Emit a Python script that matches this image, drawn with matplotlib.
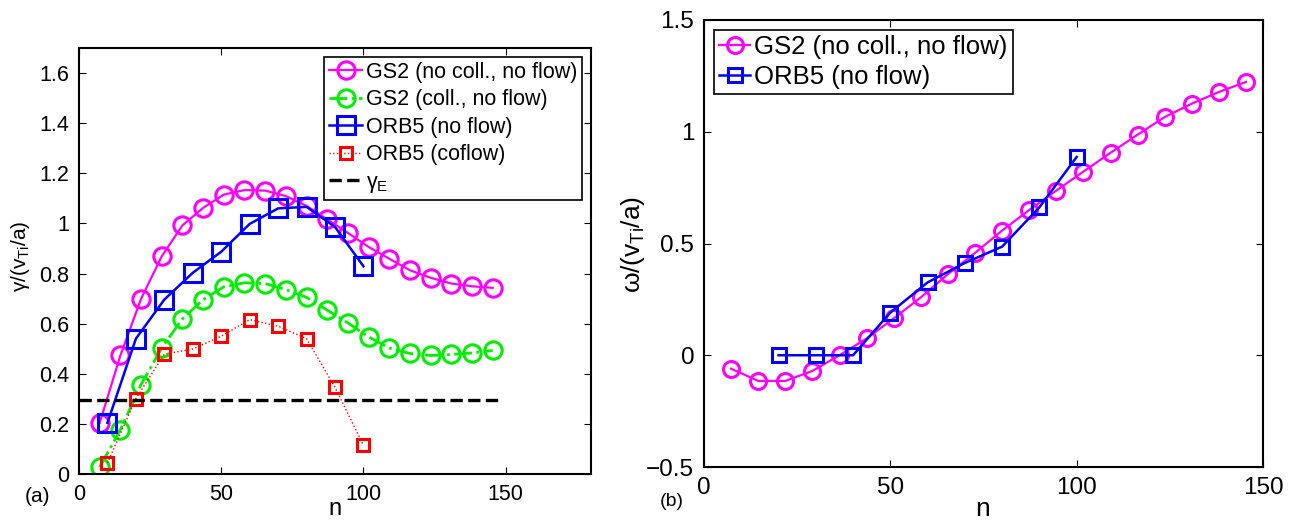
import matplotlib
matplotlib.use("Agg")
import matplotlib.pyplot as plt

FONT = 'Liberation Sans'
plt.rcParams['font.family'] = [FONT, 'DejaVu Sans']
plt.rcParams['mathtext.fontset'] = 'custom'
plt.rcParams['mathtext.rm'] = FONT
plt.rcParams['mathtext.it'] = FONT

# ---- data ----
n_gs2 = [7.27, 14.55, 21.82, 29.09, 36.36, 43.64, 50.91, 58.18, 65.45, 72.73,
         80.0, 87.27, 94.55, 101.82, 109.09, 116.36, 123.64, 130.91, 138.18, 145.45]
gamma_gs2_nocoll = [0.204, 0.473, 0.699, 0.869, 0.992, 1.062, 1.115, 1.133, 1.131, 1.109,
                    1.070, 1.016, 0.962, 0.906, 0.859, 0.813, 0.783, 0.760, 0.749, 0.743]
gamma_gs2_coll = [0.027, 0.177, 0.357, 0.503, 0.619, 0.696, 0.747, 0.763, 0.760, 0.736,
                  0.705, 0.654, 0.603, 0.547, 0.503, 0.481, 0.473, 0.477, 0.483, 0.493]
n_orb5 = [10, 20, 30, 40, 50, 60, 70, 80, 90, 100]
gamma_orb5_noflow = [0.204, 0.540, 0.696, 0.803, 0.887, 0.998, 1.060, 1.066, 0.986, 0.829]
gamma_orb5_coflow = [0.044, 0.301, 0.478, 0.499, 0.550, 0.616, 0.590, 0.540, 0.346, 0.114]
gamma_E = 0.297
n_gammaE = [0, 148.2]

omega_gs2 = [-0.060, -0.115, -0.115, -0.070, 0.0, 0.075, 0.165, 0.259, 0.363, 0.458,
             0.558, 0.650, 0.737, 0.822, 0.906, 0.987, 1.066, 1.126, 1.178, 1.223]
n_orb5_w = [20, 30, 40, 50, 60, 70, 80, 90, 100]
omega_orb5 = [0.0, 0.0, 0.0, 0.191, 0.326, 0.413, 0.486, 0.662, 0.887]

left_yticks = [0, 0.2, 0.4, 0.6, 0.8, 1.0, 1.2, 1.4, 1.6]
left_yticklabels = ['0', '0.2', '0.4', '0.6', '0.8', '1', '1.2', '1.4', '1.6']
right_yticks = [-0.5, 0, 0.5, 1, 1.5]
right_yticklabels = ['\u22120.5', '0', '0.5', '1', '1.5']
xticks = [0, 50, 100, 150]

W, H = 1297, 522
fig = plt.figure(figsize=(W / 100, H / 100), dpi=100)

def add_ax(x0, y0, x1, y1):
    return fig.add_axes([x0 / W, 1 - y1 / H, (x1 - x0) / W, (y1 - y0) / H])

mag, grn, blu, red = '#FF00FF', '#00EE00', '#0000FF', '#FF0000'

# ---- left panel ----
ax1 = add_ax(79, 48, 591, 474)
ax1.plot(n_gs2, gamma_gs2_nocoll, '-o', color=mag, mfc='none', ms=12.5, mew=2.2, lw=1.6,
         label='GS2 (no coll., no flow)')
ax1.plot(n_gs2, gamma_gs2_coll, '-.o', color=grn, mfc='none', ms=12.5, mew=2.2, lw=2,
         label='GS2 (coll., no flow)')
ax1.plot(n_orb5, gamma_orb5_noflow, '-s', color=blu, mfc='none', ms=12.5, mew=2.2, lw=1.8,
         label='ORB5 (no flow)')
ax1.plot(n_orb5, gamma_orb5_coflow, ':s', color=red, mfc='none', ms=8.5, mew=2.2, lw=1,
         label='ORB5 (coflow)')
ax1.plot(n_gammaE, [gamma_E, gamma_E], '--', color='black', lw=2.4, label=r'$\gamma_{\rm E}$')
ax1.set_xlim(0, 180)
ax1.set_ylim(0, 1.7)
ax1.set_xticks(xticks)
ax1.set_yticks(left_yticks)
ax1.set_yticklabels(left_yticklabels)
for lab in ax1.get_xticklabels() + ax1.get_yticklabels():
    lab.set_fontsize(15.5)
leg1 = ax1.legend(loc='upper right', fontsize=15.5, frameon=True, fancybox=False,
                  edgecolor='black', handlelength=1.55, handletextpad=0.15,
                  borderpad=0.25, labelspacing=0.3, borderaxespad=0.4,
                  framealpha=1)
leg1.get_frame().set_linewidth(1.2)
fig.text(21 / W, 1 - 256 / H, r'$\gamma/(v_{\rm Ti}/a)$', rotation=90, ha='center', va='center',
         fontsize=15)
fig.text(335 / W, 1 - 509 / H, 'n', ha='center', va='center', fontsize=17)
fig.text(38 / W, 1 - 497 / H, '(a)', ha='center', va='center', fontsize=15)

# ---- right panel ----
ax2 = add_ax(704, 20, 1263, 467)
ax2.plot(n_gs2, omega_gs2, '-o', color=mag, mfc='none', ms=11.5, mew=2.2, lw=1.6,
         label='GS2 (no coll., no flow)')
ax2.plot(n_orb5_w, omega_orb5, '-s', color=blu, mfc='none', ms=9.5, mew=2.2, lw=1.8,
         label='ORB5 (no flow)')
ax2.set_xlim(0, 150)
ax2.set_ylim(-0.5, 1.5)
ax2.set_xticks(xticks)
ax2.set_yticks(right_yticks)
ax2.set_yticklabels(right_yticklabels)
for lab in ax2.get_xticklabels() + ax2.get_yticklabels():
    lab.set_fontsize(17.5)
leg2 = ax2.legend(loc='upper left', fontsize=18.5, frameon=True, fancybox=False,
                  edgecolor='black', handlelength=1.2, handletextpad=0.15,
                  borderpad=0.2, labelspacing=0.2, borderaxespad=0.4,
                  framealpha=1)
leg2.get_frame().set_linewidth(1.2)
fig.text(633 / W, 1 - 244 / H, r'$\omega/(v_{\rm Ti}/a)$', rotation=90, ha='center', va='center',
         fontsize=19)
fig.text(983 / W, 1 - 509 / H, 'n', ha='center', va='center', fontsize=19)
fig.text(672 / W, 1 - 502 / H, '(b)', ha='center', va='center', fontsize=14)

for ax in (ax1, ax2):
    ax.tick_params(direction='in', top=True, right=True, length=5, width=0.8, pad=7)
    for s in ax.spines.values():
        s.set_linewidth(1.5)

fig.savefig('out.png', dpi=100, facecolor='white')
